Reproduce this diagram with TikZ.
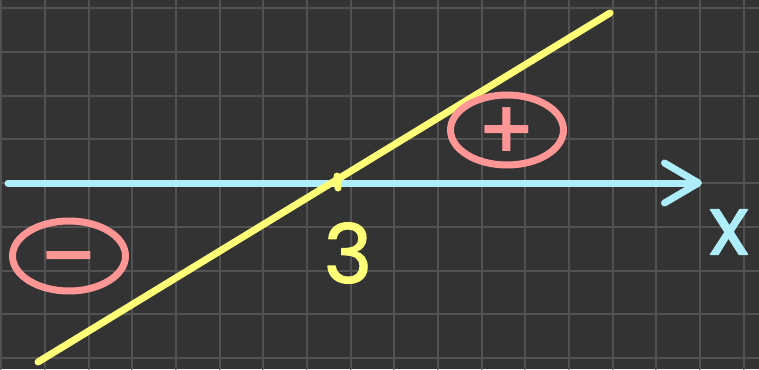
\documentclass[tikz,border=0pt]{standalone}
\usepackage{fontspec}
\newfontfamily\signfont{DejaVu Sans}
\newfontfamily\handfont{Poppins}[BoldFont=Poppins, BoldFeatures={FakeBold=1.5}]
\usetikzlibrary{arrows.meta, shapes.geometric}
\definecolor{BoardGrey}{HTML}{333333}
\definecolor{GridGrey}{HTML}{525252}
\definecolor{AxisBlue}{HTML}{AEEEFA}
\definecolor{LineYellow}{HTML}{FFFF78}
\definecolor{SignPink}{HTML}{FF9696}

\begin{document}
\begin{tikzpicture}[x=1pt, y=-1pt, line cap=round, line join=round,
  gridline/.style={GridGrey, line width=2pt},
  sign/.style={draw=SignPink, ellipse, line width=7pt, text=SignPink,
               minimum width=113pt, minimum height=70pt, inner sep=0pt,
               font=\signfont\bfseries\fontsize{70}{70}\selectfont},
  hand/.style={inner sep=0pt, font=\handfont\bfseries\fontsize{82}{82}\selectfont}]
  \useasboundingbox[fill=BoardGrey] (0,0) rectangle (759,369);
  % grid
  \foreach \i in {0,...,17}
    \draw[gridline] ({1.3+43.67*\i},0) -- ++(0,369);
  \foreach \j in {0,...,8}
    \draw[gridline] (0,{8.3+43.7*\j}) -- ++(759,0);
  % axis
  \coordinate (axstart) at (8,183);
  \coordinate (axend) at (702,183);
  \draw[AxisBlue, line width=7pt,
        -{Straight Barb[length=34pt, width=40pt, round]}] (axstart) -- (axend);
  \node[hand, text=AxisBlue] (xlab) at (729,232) {x};
  % line
  \coordinate (lnstart) at (38,362);
  \coordinate (lnend) at (610,13);
  \draw[LineYellow, line width=7pt] (lnstart) -- (lnend);
  \coordinate (tickup) at (337,176);
  \coordinate (tickdown) at (338,188);
  \draw[LineYellow, line width=7pt] (tickup) -- (tickdown);
  \node[hand, text=LineYellow] (root) at (348,253) {3};
  % signs
  \node[sign] (neg) at (69,256) {\vphantom{+}−};
  \node[sign] (pos) at (507,130) {+};
\end{tikzpicture}
\end{document}
